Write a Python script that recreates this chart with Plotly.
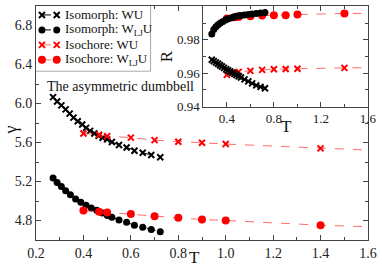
import plotly.graph_objects as go

# ---------------- data ----------------
# Isomorph (black), main panel gamma vs T, inset R vs T
T_iso_wu = [0.272, 0.289, 0.307, 0.325, 0.342, 0.358, 0.376, 0.395, 0.411, 0.428, 0.446,
            0.464, 0.481, 0.500, 0.520, 0.550, 0.582, 0.615, 0.650, 0.686, 0.724]
gamma_iso_wu = [6.065, 6.021, 5.981, 5.940, 5.896, 5.855, 5.818, 5.784, 5.750, 5.719, 5.693,
                5.668, 5.648, 5.632, 5.605, 5.574, 5.548, 5.516, 5.495, 5.472, 5.449]
R_iso_wu = [0.9680, 0.9672, 0.9664, 0.9656, 0.9648, 0.9640, 0.9632, 0.9624, 0.9617, 0.9610, 0.9603,
            0.9596, 0.9589, 0.9582, 0.9574, 0.9563, 0.9551, 0.9539, 0.9527, 0.9518, 0.9510]

T_iso_lj = [0.272, 0.289, 0.307, 0.325, 0.345, 0.367, 0.389, 0.411, 0.433, 0.456, 0.480,
            0.501, 0.520, 0.550, 0.582, 0.615, 0.650, 0.686, 0.724]
gamma_iso_lj = [5.235, 5.190, 5.149, 5.105, 5.065, 5.021, 4.986, 4.956, 4.929, 4.905, 4.878,
                4.851, 4.834, 4.806, 4.783, 4.752, 4.732, 4.708, 4.685]
R_iso_lj = [0.9835, 0.9862, 0.9878, 0.9890, 0.9900, 0.9910, 0.9918, 0.9925, 0.9930, 0.9935, 0.9940,
            0.9943, 0.9945, 0.9948, 0.9951, 0.9954, 0.9957, 0.9960, 0.9963]

# Isochore (red)
T_isoc = [0.4, 0.466, 0.5, 0.6, 0.7, 0.8, 0.9, 1.0, 1.4]
gamma_isoc_wu = [5.693, 5.680, 5.665, 5.650, 5.624, 5.607, 5.597, 5.584, 5.540]
gamma_isoc_lj = [4.902, 4.889, 4.881, 4.866, 4.844, 4.827, 4.810, 4.800, 4.752]
R_isoc_wu = [0.9590, 0.9604, 0.9608, 0.9614, 0.9620, 0.9624, 0.9625, 0.9627, 0.9632]
R_isoc_lj = [0.9927, 0.9935, 0.9936, 0.9941, 0.9945, 0.9947, 0.9947, 0.9951, 0.9957]

# dashed guide lines extended to T = 1.6
T_ext = [1.6]
gamma_isoc_wu_ext = [5.522]
gamma_isoc_lj_ext = [4.736]
R_isoc_wu_ext = [0.9633]
R_isoc_lj_ext = [0.9958]

series_names = ["Isomorph: WU", "Isomorph: W<sub>LJ</sub>U",
                "Isochore: WU", "Isochore: W<sub>LJ</sub>U"]

x_ticks_main = [0.2, 0.4, 0.6, 0.8, 1.0, 1.2, 1.4, 1.6]
y_ticks_main = [4.8, 5.2, 5.6, 6.0, 6.4, 6.8]
x_ticks_inset = [0.4, 0.8, 1.2, 1.6]
y_ticks_inset = [0.94, 0.96, 0.98, 1.00]

# ---------------- style ----------------
FONT = "Liberation Serif, Tinos, Times New Roman, Noto Serif, DejaVu Serif, serif"
BLACK = "#000000"
RED = "#ff0000"
LRED = "rgba(255,70,70,0.8)"
AX = "#444444"
STYLES = [  # (marker colour, symbol, size, line colour)
    (BLACK, "x", 6, BLACK),
    (BLACK, "circle", 7, BLACK),
    (RED, "x", 6, LRED),
    (RED, "circle", 8, LRED),
]

fig = go.Figure()

def add(x, y, style, xa, ya, lines=True):
    color, symbol, size, lcolor = style
    cross = symbol == "x"
    fig.add_trace(go.Scatter(
        x=x, y=y, mode="lines+markers" if lines else "markers", showlegend=False,
        xaxis=xa, yaxis=ya,
        line=dict(color=lcolor, width=1, dash="dash"),
        marker=dict(color=color, symbol="x-thin" if cross else "circle", size=size,
                    line=dict(width=2 if cross else 0, color=color)),
    ))

def add_line(x, y, color, xa, ya):
    fig.add_trace(go.Scatter(
        x=x, y=y, mode="lines", showlegend=False, xaxis=xa, yaxis=ya,
        line=dict(color=color, width=1, dash="dash"), hoverinfo="skip"))

# main panel
add(T_iso_wu, gamma_iso_wu, STYLES[0], "x", "y")
add(T_iso_lj, gamma_iso_lj, STYLES[1], "x", "y")
add_line(T_isoc + T_ext, gamma_isoc_wu + gamma_isoc_wu_ext, LRED, "x", "y")
add_line(T_isoc + T_ext, gamma_isoc_lj + gamma_isoc_lj_ext, LRED, "x", "y")
add(T_isoc, gamma_isoc_wu, STYLES[2], "x", "y", lines=False)
add(T_isoc, gamma_isoc_lj, STYLES[3], "x", "y", lines=False)

# inset
add_line(T_isoc + T_ext, R_isoc_wu + R_isoc_wu_ext, LRED, "x2", "y2")
add_line(T_isoc + T_ext, R_isoc_lj + R_isoc_lj_ext, LRED, "x2", "y2")
add(T_isoc, R_isoc_wu, STYLES[2], "x2", "y2", lines=False)
add(T_isoc, R_isoc_lj, STYLES[3], "x2", "y2", lines=False)
add(T_iso_wu, R_iso_wu, STYLES[0], "x2", "y2")
add(T_iso_lj, R_iso_lj, STYLES[1], "x2", "y2")

# legend (compact, drawn in its own unit box)
LEG_SAMPLE_X = [0.052, 0.181]
LEG_TEXT_X = 0.233
LEG_ROWS = [0.862, 0.631, 0.40, 0.169]
annotations = []
for name, style, row in zip(series_names, STYLES, LEG_ROWS):
    add(LEG_SAMPLE_X, [row, row], style, "x3", "y3")
    annotations.append(dict(text=name, xref="x3", yref="y3", x=LEG_TEXT_X, y=row,
                            xanchor="left", yanchor="middle", showarrow=False,
                            font=dict(family=FONT, size=13, color="#111")))

axis_common = dict(showline=True, linecolor=AX, linewidth=1, mirror="ticks",
                   ticks="inside", tickcolor=AX, ticklen=5, showgrid=False, zeroline=False)

def tf(size):
    return dict(family=FONT, size=size, color="#222")

def label(text, x, y, size, angle=0):
    return dict(text=text, xref="paper", yref="paper", x=x, y=y,
                xanchor="center", yanchor="middle", showarrow=False, textangle=angle,
                font=dict(family=FONT, size=size, color="#111"))

annotations += [
    dict(text="The asymmetric dumbbell", xref="paper", yref="paper",
         x=0.027, y=0.655, xanchor="left", yanchor="middle", showarrow=False,
         font=dict(family=FONT, size=14, color="#111")),
    label("T", 0.476, -0.074, 17),
    label("γ", -0.075, 0.468, 18, -90),
    label("T", 0.756, 0.485, 17),
    label("R", 0.393, 0.787, 17, -90),
]

LEG_DOMAIN_X = [0.0, 0.345]
LEG_DOMAIN_Y = [0.723, 1.0]

fig.update_layout(
    width=382, height=269,
    margin=dict(l=36, r=10, t=5, b=29),
    paper_bgcolor="white", plot_bgcolor="white",
    font=dict(family=FONT, color="#111"),
    showlegend=False,
    xaxis=dict(range=[0.2, 1.6], tickvals=x_ticks_main, domain=[0, 1], tickformat=".1f",
               minor=dict(ticks="inside", dtick=0.1, ticklen=3, tickcolor=AX),
               tickfont=tf(14), **axis_common),
    yaxis=dict(range=[4.6, 7.0], tickvals=y_ticks_main, domain=[0, 1], tickformat=".1f",
               minor=dict(ticks="inside", dtick=0.2, tick0=4.6, ticklen=3, tickcolor=AX),
               tickfont=tf(14), **axis_common),
    xaxis2=dict(range=[0.2, 1.6], tickvals=x_ticks_inset, domain=[0.504, 1.0], anchor="y2",
                minor=dict(ticks="inside", dtick=0.2, tick0=0.2, ticklen=3, tickcolor=AX),
                tickformat=".1f", tickfont=tf(13), **axis_common),
    yaxis2=dict(range=[0.94, 1.0002], tickvals=y_ticks_inset, domain=[0.57, 1.0], anchor="x2",
                minor=dict(ticks="inside", dtick=0.01, tick0=0.94, ticklen=3, tickcolor=AX),
                tickformat=".2f", tickfont=tf(13), **axis_common),
    xaxis3=dict(range=[0, 1], domain=LEG_DOMAIN_X, anchor="y3", visible=False, fixedrange=True),
    yaxis3=dict(range=[0, 1], domain=LEG_DOMAIN_Y, anchor="x3", visible=False, fixedrange=True),
    shapes=[dict(type="rect", xref="paper", yref="paper",
                 x0=LEG_DOMAIN_X[0], x1=LEG_DOMAIN_X[1], y0=LEG_DOMAIN_Y[0], y1=LEG_DOMAIN_Y[1],
                 line=dict(color=AX, width=1), fillcolor="white", layer="below")],
    annotations=annotations,
)

fig.write_html("out.html", config={"displayModeBar": False},
               post_script="document.body.style.margin='0px';")
